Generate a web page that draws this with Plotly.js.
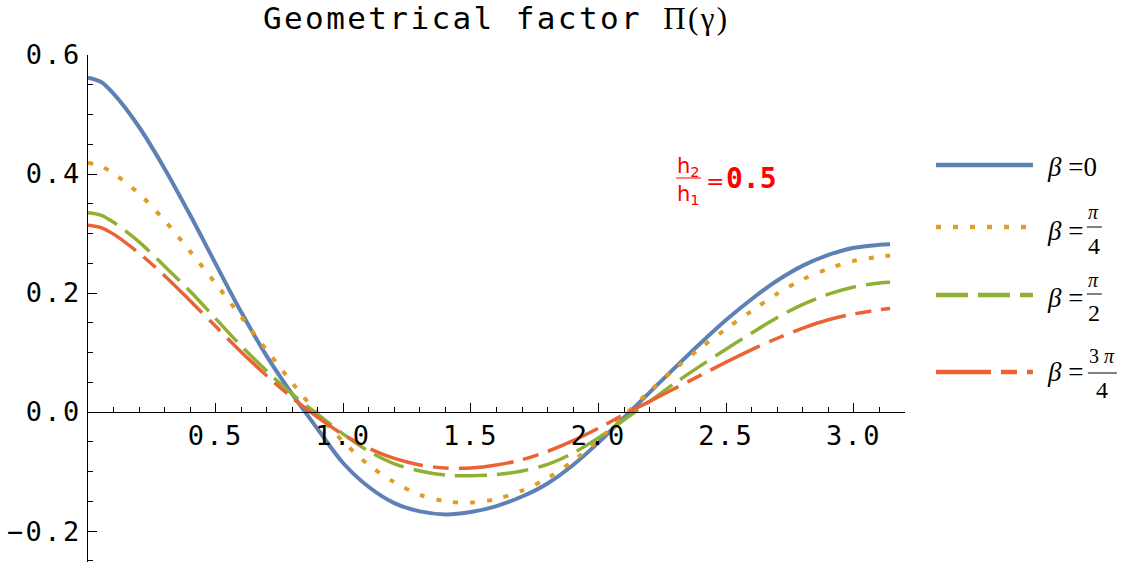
<!DOCTYPE html>
<html>
<head>
<meta charset="utf-8">
<script src="https://cdn.plot.ly/plotly-3.0.1.min.js"></script>
<style>
html,body{margin:0;padding:0;background:#fff;}
#chart{width:1130px;height:565px;}
.gtitle{letter-spacing:2.4px;}
.xtick text,.ytick text{letter-spacing:2.4px;}
</style>
</head>
<body>
<div id="chart"></div>
<script>
// ---- data ----
const gamma = [0,0.05,0.1,0.2,0.3,0.4,0.5,0.6,0.7,0.8,0.9,1.0,1.1,1.2,1.3,1.4,1.5,1.6,1.7,1.8,1.9,2.0,2.1,2.2,2.3,2.4,2.5,2.6,2.7,2.8,2.9,3.0,3.1,3.1416];
const beta0   = [0.562,0.555,0.535,0.479,0.409,0.331,0.249,0.168,0.094,0.030,-0.029,-0.086,-0.126,-0.153,-0.167,-0.172,-0.168,-0.158,-0.142,-0.120,-0.089,-0.051,-0.009,0.033,0.075,0.116,0.155,0.190,0.221,0.246,0.264,0.276,0.281,0.282];
const betaPi4 = [0.419,0.413,0.401,0.367,0.322,0.270,0.216,0.160,0.104,0.049,-0.003,-0.050,-0.089,-0.118,-0.139,-0.150,-0.152,-0.146,-0.132,-0.111,-0.082,-0.046,-0.006,0.035,0.073,0.108,0.140,0.170,0.199,0.223,0.241,0.254,0.261,0.263];
const betaPi2 = [0.335,0.331,0.319,0.286,0.245,0.203,0.157,0.111,0.069,0.030,-0.004,-0.037,-0.066,-0.087,-0.099,-0.106,-0.107,-0.105,-0.099,-0.088,-0.069,-0.043,-0.013,0.018,0.049,0.078,0.106,0.133,0.159,0.181,0.198,0.210,0.217,0.218];
const beta3Pi4= [0.314,0.310,0.299,0.267,0.229,0.187,0.144,0.101,0.061,0.024,-0.009,-0.038,-0.061,-0.078,-0.089,-0.094,-0.094,-0.089,-0.080,-0.066,-0.048,-0.027,-0.004,0.018,0.040,0.062,0.084,0.105,0.124,0.141,0.155,0.165,0.172,0.174];
const seriesNames = ["β = 0","β = π/4","β = π/2","β = 3π/4"];
const xTickVals = [0.5,1.0,1.5,2.0,2.5,3.0];
const xTickText = ["0.5","1.0","1.5","2.0","2.5","3.0"];
const yTickVals = [-0.2,0.0,0.2,0.4,0.6];
const yTickText = ["−0.2","0.0","0.2","0.4","0.6"];

// ---- styling ----
const colors = ["#5E81B5","#E19C24","#8FB032","#EB6235"];
const dashes = ["solid","5px,12px","32px,10px","55px,10px,16px,10px"];
const widths = [4,4,3.5,3.5];
const series = [beta0,betaPi4,betaPi2,beta3Pi4];

const W=1130,H=565;
const L=87.5,R=905,T=55,B=562;
const xr=[0,3.2], yr=[-0.252,0.6];
function P(px,py){return {x:(px-L)/(R-L), y:(B-py)/(B-T)};}

const mono="DejaVu Sans Mono";
const serif="Liberation Serif";

const traces = series.map((s,i)=>({
  x:gamma, y:s, type:'scatter', mode:'lines', name:seriesNames[i],
  line:{color:colors[i], width:widths[i], dash:dashes[i], shape:'spline', smoothing:0.9},
  hoverinfo:'skip', showlegend:false
}));

const shapes=[], annotations=[];
// custom legend
const legY=[165,227,295,372];
legY.forEach((py,i)=>{
  const a=P(936,py), b=P(1033,py);
  shapes.push({type:'line', xref:'paper', yref:'paper', x0:a.x, x1:b.x, y0:a.y, y1:a.y,
    line:{color:colors[i], width:4.5, dash:dashes[i]}});
});
function ann(px,py,text,size,family,color,xanchor){
  const p=P(px,py);
  annotations.push({xref:'paper',yref:'paper',x:p.x,y:p.y,text:text,showarrow:false,
    xanchor:xanchor||'center',yanchor:'middle',font:{family:family,size:size,color:color||'#000'}});
}
function bar(x0,x1,py,color){
  const a=P(x0,py), b=P(x1,py);
  shapes.push({type:'line',xref:'paper',yref:'paper',x0:a.x,x1:b.x,y0:a.y,y1:a.y,line:{color:color||'#000',width:1}});
}
// β = 0
ann(1045,167,"<i>β</i> =0",27,serif,'#000','left');
// β = π/4
ann(1045,231,"<i>β</i> =",27,serif,'#000','left');
ann(1094,212,"<i>π</i>",20,serif);
bar(1087,1102,227);
ann(1094,246,"4",24,serif);
// β = π/2
ann(1045,298,"<i>β</i> =",27,serif,'#000','left');
ann(1094,280,"<i>π</i>",20,serif);
bar(1087,1102,294);
ann(1094,313,"2",24,serif);
// β = 3π/4
ann(1045,372,"<i>β</i> =",27,serif,'#000','left');
ann(1102,356,"3 <i>π</i>",20,serif);
bar(1088,1117,373);
ann(1102,390,"4",24,serif);

// red h2/h1 = 0.5
const red='#FF0000';
ann(688,167,"h<sub>2</sub>",21,"DejaVu Sans",red);
bar(676,701,178,red);
ann(688,195,"h<sub>1</sub>",21,"DejaVu Sans",red);
ann(715,181,"=",22,"DejaVu Sans",red);
ann(724,178,"<b>0.5</b>",28,mono,red,'left');

const xPos = (0-yr[0])/(yr[1]-yr[0]);

const layout={
  width:W, height:H,
  margin:{l:L, r:W-R, t:T, b:H-B, pad:0},
  paper_bgcolor:'#fff', plot_bgcolor:'#fff',
  showlegend:false,
  title:{text:"Geometrical factor <span style=\"font-family:'Liberation Serif'\">Π(γ)</span>", font:{family:mono,size:31,color:'#000'},
    x:(L+R)/2/W, xref:'container', xanchor:'center', y:1-18/H, yref:'container', yanchor:'middle'},
  xaxis:{range:xr, anchor:'free', position:xPos, showline:true, linecolor:'#000', linewidth:1,
    showgrid:false, zeroline:false, ticks:'inside', ticklen:9, tickwidth:1, tickcolor:'#000',
    tickmode:'array', tickvals:xTickVals, ticktext:xTickText,
    tickfont:{family:mono,size:27,color:'#000'},
    minor:{dtick:0.1, tick0:0, ticks:'inside', ticklen:5, tickcolor:'#000', showgrid:false}},
  yaxis:{range:yr, showline:true, linecolor:'#000', linewidth:1,
    showgrid:false, zeroline:false, ticks:'inside', ticklen:9, tickwidth:1, tickcolor:'#000',
    tickmode:'array', tickvals:yTickVals, ticktext:yTickText,
    tickfont:{family:mono,size:27,color:'#000'},
    minor:{dtick:0.05, tick0:0, ticks:'inside', ticklen:5, tickcolor:'#000', showgrid:false}},
  shapes:shapes, annotations:annotations
};
Plotly.newPlot('chart',traces,layout,{displayModeBar:false,staticPlot:true});
</script>
</body>
</html>
